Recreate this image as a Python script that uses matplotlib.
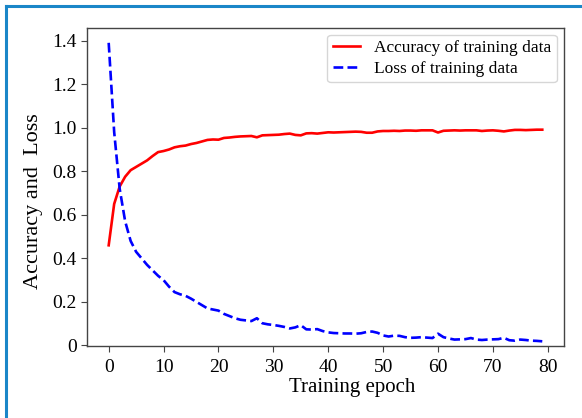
import matplotlib
matplotlib.use("Agg")
import matplotlib.pyplot as plt
from matplotlib.lines import Line2D

epochs = list(range(80))
accuracy = [0.46, 0.65, 0.73, 0.775, 0.805, 0.82, 0.835, 0.85, 0.87, 0.888,
            0.893, 0.90, 0.91, 0.915, 0.918, 0.925, 0.93, 0.937, 0.944, 0.946,
            0.945, 0.953, 0.955, 0.958, 0.960, 0.961, 0.962, 0.956, 0.965, 0.966,
            0.967, 0.968, 0.971, 0.973, 0.967, 0.965, 0.974, 0.975, 0.973, 0.976,
            0.979, 0.978, 0.979, 0.980, 0.981, 0.982, 0.981, 0.977, 0.977, 0.983,
            0.985, 0.985, 0.986, 0.985, 0.987, 0.987, 0.986, 0.988, 0.988, 0.988,
            0.978, 0.986, 0.987, 0.988, 0.987, 0.988, 0.988, 0.988, 0.985, 0.987,
            0.988, 0.986, 0.983, 0.987, 0.990, 0.990, 0.989, 0.990, 0.991, 0.991]
loss = [1.39, 0.98, 0.72, 0.57, 0.48, 0.43, 0.40, 0.37, 0.345, 0.32,
        0.30, 0.27, 0.245, 0.235, 0.228, 0.215, 0.20, 0.185, 0.17, 0.165,
        0.16, 0.145, 0.135, 0.125, 0.118, 0.115, 0.112, 0.125, 0.102, 0.097,
        0.094, 0.09, 0.085, 0.078, 0.083, 0.093, 0.074, 0.073, 0.075, 0.066,
        0.06, 0.057, 0.056, 0.055, 0.055, 0.054, 0.056, 0.062, 0.064, 0.058,
        0.046, 0.041, 0.045, 0.044, 0.038, 0.035, 0.036, 0.038, 0.036, 0.034,
        0.054, 0.038, 0.032, 0.027, 0.028, 0.029, 0.034, 0.027, 0.025, 0.027,
        0.028, 0.029, 0.035, 0.024, 0.022, 0.027, 0.025, 0.022, 0.021, 0.019]
xticks = [0, 10, 20, 30, 40, 50, 60, 70, 80]
yticks = [0, 0.2, 0.4, 0.6, 0.8, 1.0, 1.2, 1.4]
ytick_labels = ["0", "0.2", "0.4", "0.6", "0.8", "1.0", "1.2", "1.4"]

plt.rcParams['font.family'] = ['Liberation Serif', 'DejaVu Serif']

fig = plt.figure(figsize=(5.82, 4.18), dpi=100)
ax = fig.add_axes([0.1495, 0.172, 0.8195, 0.761])

ax.plot(epochs, accuracy, color='#ff0000', lw=1.9, label='Accuracy of training data')
ax.plot(epochs, loss, color='#0000ff', lw=1.9, ls='--', label='Loss of training data')

ax.set_xlim(-3.95, 82.95)
ax.set_ylim(-0.003, 1.458)
ax.set_xticks(xticks)
ax.set_yticks(yticks)
ax.set_yticklabels(ytick_labels)
ax.tick_params(labelsize=14, color='#444444', length=4)
ax.tick_params(axis='x', pad=5.5)
for s in ax.spines.values():
    s.set_color('#444444')
    s.set_linewidth(1.0)

ax.set_xlabel('Training epoch', fontsize=15)
ax.set_ylabel('Accuracy and  Loss', fontsize=16)
ax.xaxis.set_label_coords(0.556, -0.1)
ax.yaxis.set_label_coords(-0.092, 0.456)

ax.legend(loc='upper right', fontsize=12.5, handlelength=1.6,
          borderpad=0.3, labelspacing=0.25, handletextpad=0.8,
          borderaxespad=0, bbox_to_anchor=(0.985, 0.978))

border = '#1a86c8'
fig.add_artist(Line2D([6 / 582, 6 / 582], [0, 1 - 6 / 418], transform=fig.transFigure,
                      color=border, lw=2.2))
fig.add_artist(Line2D([6 / 582, 1], [1 - 6 / 418, 1 - 6 / 418], transform=fig.transFigure,
                      color=border, lw=2.2))

fig.savefig('out.png', dpi=100)
